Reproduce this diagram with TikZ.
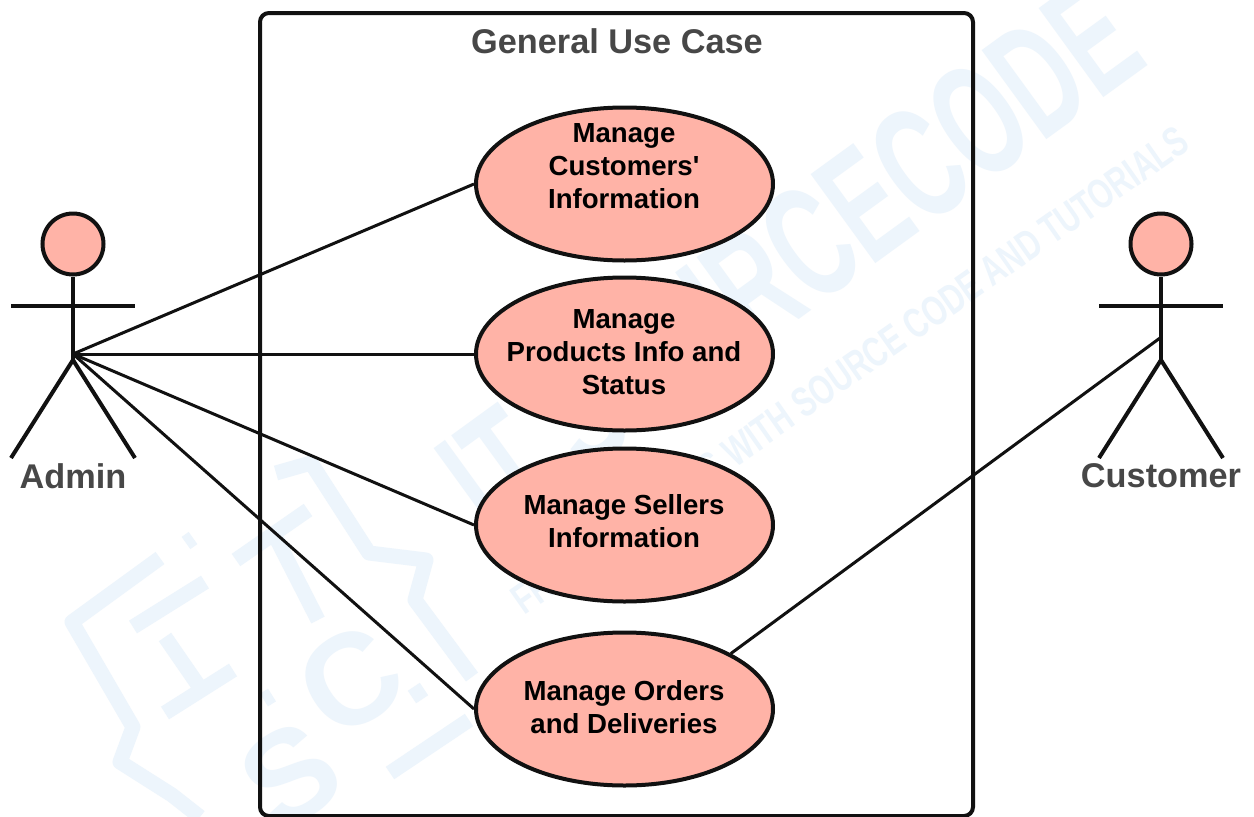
\documentclass[tikz,border=0pt]{standalone}
\usepackage{fontspec}
\setmainfont{Liberation Sans}[Ligatures=TeXOff]
\usetikzlibrary{shapes.geometric}
\definecolor{salmon}{HTML}{FFB3A7}
\definecolor{ink}{HTML}{111111}
\definecolor{greytxt}{HTML}{474747}
\definecolor{wm}{HTML}{EDF5FC}
\tikzset{
  x=1pt,y=-1pt,
  usecase/.style={ellipse,draw=ink,fill=salmon,line width=4pt,minimum width=297pt,minimum height=153pt,inner sep=0pt},
  uctext/.style={align=center,text=black,inner sep=0pt,font=\fontsize{27.6}{33}\selectfont\bfseries},
  head/.style={circle,draw=ink,fill=salmon,line width=4pt,minimum size=61pt,inner sep=0pt},
  limb/.style={draw=ink,line width=4pt},
  link/.style={draw=ink,line width=3pt},
  title/.style={text=greytxt,font=\fontsize{34.3}{40}\selectfont\bfseries,inner sep=0pt},
  wmtext/.style={text=wm,inner sep=0pt,font=\bfseries},
  wmline/.style={draw=wm,line width=15pt},
}
\begin{document}
\begin{tikzpicture}
\useasboundingbox (0,0) rectangle (1254,817);
\fill[white] (0,0) rectangle (1254,817);
% watermark
\node[wmtext,rotate=36] (wma) at (790,258) {\fontsize{160}{160}\selectfont\scalebox{0.61}[1]{IT SOURCECODE}};
\node[wmtext,rotate=35] (wmb) at (850,370) {\fontsize{42}{44}\selectfont\scalebox{0.71}[1]{FREE PROJECTS WITH SOURCE CODE AND TUTORIALS}};
\draw[wmline,line join=round] (160,558) -- (72,622) -- (133,727) -- (120,762) -- (172,795) -- (200,817);
\draw[wmline,line join=round] (276,473) -- (311,463) -- (369,553) -- (426,560) -- (415,600) -- (472,677);
\draw[wmline] (133,627) -- (205,582);
\draw[wmline] (165,637) -- (205,695);
\draw[wmline] (165,713) -- (233,670);
\draw[wmline] (236,560) -- (308,510);
\draw[wmline] (272,530) -- (318,620);
\draw[wmline] (186,543) -- (193,538);
\draw[wmline] (264,700) -- (272,695);
\draw[wmline] (412,697) -- (424,689);
\draw[wmline] (390,773) -- (469,720);
\node[wmtext,rotate=33] (wmc) at (350,680) {\fontsize{130}{130}\selectfont C};
\node[wmtext,rotate=33] (wmd) at (290,775) {\fontsize{130}{130}\selectfont S};
% system box
\draw[draw=ink,line width=4pt,rounded corners=9pt] (260,13) rectangle (973,816);
\node[title] (systitle) at (617,41) {General Use Case};
% actors
\coordinate (ahub) at (73,354);
\coordinate (chub) at (1160,338);
\coordinate (ahip) at (73,360);
\coordinate (chip) at (1161,360);
\node[head] (ahead) at (73,244) {};
\node[head] (chead) at (1161,244) {};
\coordinate (aarmL) at (11,306); \coordinate (aarmR) at (135,306);
\coordinate (afootL) at (11,458); \coordinate (afootR) at (135,458);
\coordinate (carmL) at (1099,306); \coordinate (carmR) at (1223,306);
\coordinate (cfootL) at (1099,458); \coordinate (cfootR) at (1223,458);
\draw[limb] (ahead.south) -- (ahip);
\draw[limb] (aarmL) -- (aarmR);
\draw[limb] (afootL) -- (ahip) -- (afootR);
\draw[limb] (chead.south) -- (chip);
\draw[limb] (carmL) -- (carmR);
\draw[limb] (cfootL) -- (chip) -- (cfootR);
\node[title] (alabel) at (73,476) {Admin};
\node[title] (clabel) at (1161,476) {Customer};
% use cases and connectors
\node[usecase] (uc1) at (624.5,184) {};
\node[usecase] (uc2) at (624.5,354) {};
\node[usecase] (uc3) at (624.5,525) {};
\node[usecase] (uc4) at (624.5,709) {};
\draw[link] (ahub) -- (uc1.west);
\draw[link] (ahub) -- (uc2.west);
\draw[link] (ahub) -- (uc3.west);
\draw[link] (ahub) -- (uc4.west);
\draw[link] (chub) -- (uc4.north east);
\node[uctext] (uc1t) at (624,166) {Manage\\Customers'\\Information};
\node[uctext] (uc2t) at (624,352) {Manage\\Products Info and\\Status};
\node[uctext] (uc3t) at (624,521) {Manage Sellers\\Information};
\node[uctext] (uc4t) at (624,707) {Manage Orders\\and Deliveries};
\end{tikzpicture}
\end{document}
